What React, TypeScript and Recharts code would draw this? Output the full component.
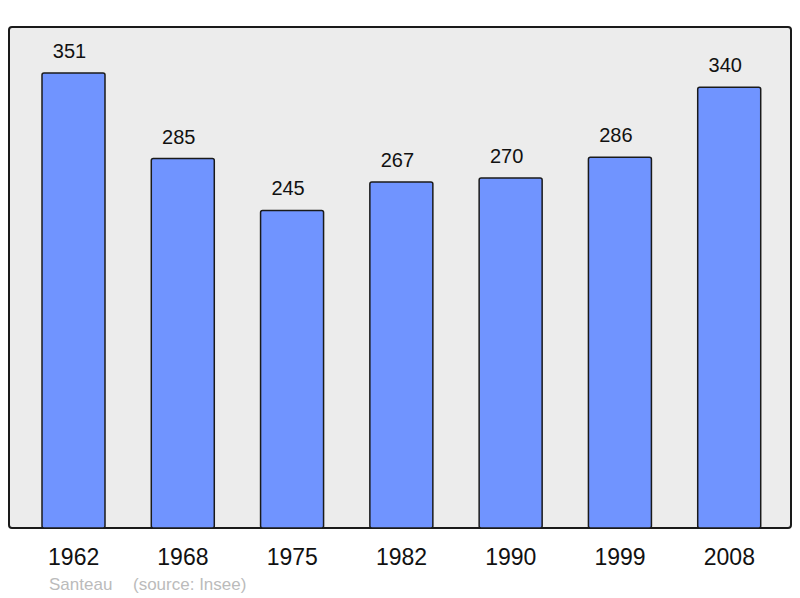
import React from 'react';
import { ComposedChart, Bar, XAxis, YAxis, LabelList } from 'recharts';

const years = ['1962', '1968', '1975', '1982', '1990', '1999', '2008'];
const population = [351, 285, 245, 267, 270, 286, 340];
const commune = 'Santeau';
const source = '(source: Insee)';

const data = years.map((y, i) => ({ year: y, pop: population[i] }));

export default function App() {
  return (
    <div
      style={{
        position: 'absolute',
        left: 0,
        top: 0,
        width: 800,
        height: 598,
        background: '#ffffff',
        fontFamily: '"Liberation Sans", Arial, sans-serif',
      }}
    >
      <div
        style={{
          position: 'absolute',
          left: 8,
          top: 26,
          width: 784,
          height: 503,
          boxSizing: 'border-box',
          border: '2px solid #1a1a1a',
          borderRadius: 4,
          background: '#ececec',
        }}
      />
      <div style={{ position: 'absolute', left: 0, top: 0 }}>
        <ComposedChart
          width={800}
          height={598}
          data={data}
          margin={{ top: 27, right: 8, bottom: 0, left: 9 }}
        >
          <XAxis
            dataKey="year"
            axisLine={false}
            tickLine={false}
            tickSize={0}
            tickMargin={21}
            height={70}
            interval={0}
            padding={{ left: 10, right: 8 }}
            tick={{ fontSize: 23, fill: '#111111' }}
          />
          <YAxis hide domain={[0, 386.5]} allowDataOverflow />
          <Bar
            dataKey="pop"
            barSize={63}
            fill="#7094ff"
            stroke="#1a1a1a"
            strokeWidth={1.5}
            radius={2}
            isAnimationActive={false}
          >
            <LabelList
              dataKey="pop"
              position="top"
              offset={15}
              dx={-4}
              style={{ fontSize: 20, fill: '#111111' }}
            />
          </Bar>
        </ComposedChart>
      </div>
      <svg
        width={800}
        height={598}
        style={{ position: 'absolute', left: 0, top: 0, pointerEvents: 'none' }}
      >
        <text x={49} y={590} fontSize={17} fill="#bbbbbb">
          {commune}
        </text>
        <text x={133} y={590} fontSize={17} fill="#bbbbbb">
          {source}
        </text>
      </svg>
    </div>
  );
}
